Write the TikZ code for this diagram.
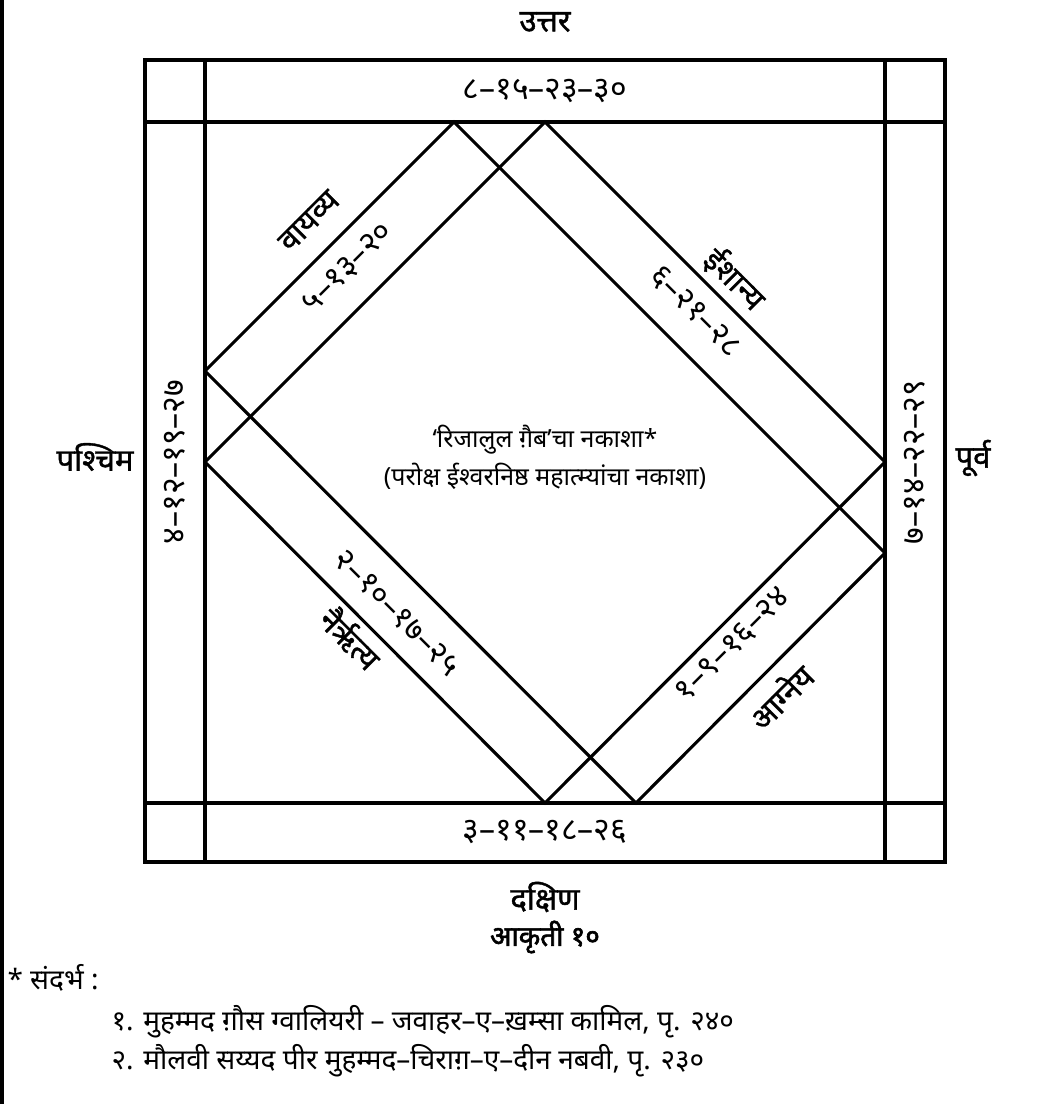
\documentclass[tikz,border=0pt]{standalone}
\usepackage{fontspec}
\setmainfont[Script=Devanagari]{Noto Sans}
\newfontfamily\devbold[Script=Devanagari,FakeBold=2.2]{Noto Sans}
\newfontfamily\devsemi[Script=Devanagari,FakeBold=1.2]{Noto Sans}
\begin{document}
\begin{tikzpicture}[x=1pt,y=1pt,line width=3.1pt,
  txt/.style={font=\fontsize{25}{30}\selectfont, inner sep=0pt},
  reftxt/.style={font=\fontsize{28}{32}\selectfont, inner sep=0pt},
  numtxt/.style={font=\fontsize{32}{36}\selectfont, inner sep=0pt},
  dirtxt/.style={font=\devsemi\fontsize{31}{36}\selectfont, inner sep=0pt}]
\useasboundingbox (0,0) rectangle (1057,1104);
% left border
\draw (2,-2) -- (2,1106);
% outer frame and bands
\coordinate (OL) at (145,242); \coordinate (OU) at (945,1044);
\draw (OL) rectangle (OU);
\draw (205,242) -- (205,1044);
\draw (885,242) -- (885,1044);
\draw (145,982) -- (945,982);
\draw (145,301) -- (945,301);
% diamond B
\coordinate (Bt) at (545,982); \coordinate (Br) at (885,642);
\coordinate (Bb) at (545,301); \coordinate (Bl) at (205,642);
\draw (Bt) -- (Br) -- (Bb) -- (Bl) -- cycle;
% rectangle A
\coordinate (At) at (454,982); \coordinate (Ar) at (885,551);
\coordinate (Ab) at (636,301); \coordinate (Al) at (205,733);
\draw (At) -- (Ar) -- (Ab) -- (Al) -- cycle;
% direction labels
\node[dirtxt] (n) at (545,1082) {उत्तर};
\node[dirtxt] (s) at (545,207) {दक्षिण};
\node[dirtxt] (w) at (95,647) {पश्चिम};
\node[dirtxt] (e) at (973,646) {पूर्व};
% band numbers
\node[numtxt] (top) at (545,1013) {८–१५–२३–३०};
\node[numtxt] (bot) at (545,272) {३–११–१८–२६};
\node[numtxt,rotate=90] (lft) at (175,642) {४–१२–१९–२७};
\node[numtxt,rotate=90] (rgt) at (915,642) {७–१४–२२–२९};
% diagonal labels
\node[dirtxt,rotate=45] (vay) at (309,883) {वायव्य};
\node[numtxt,rotate=45] (ul) at (348,836) {५–१३–२०};
\node[dirtxt,rotate=-45] (ish) at (735,825) {ईशान्य};
\node[numtxt,rotate=-45] (ur) at (695,792) {६–२१–२८};
\node[dirtxt,rotate=-45] (nai) at (351,466) {नैर्ऋत्य};
\node[numtxt,rotate=-45] (ll) at (397,491) {२–१०–१७–२५};
\node[dirtxt,rotate=45] (agn) at (780,408) {आग्नेय};
\node[numtxt,rotate=45] (lr) at (733,459) {१–९–१६–२४};
% centre title
\node[txt] (t1) at (545,664) {‘रिजालुल ग़ैब’चा नकाशा*};
\node[txt] (t2) at (545,628) {(परोक्ष ईश्वरनिष्ठ महात्म्यांचा नकाशा)};
% caption and references
\node[font=\devbold\fontsize{28}{32}\selectfont, inner sep=0pt] (cap) at (545,167) {आकृती १०};
\node[reftxt,anchor=west] (ref) at (6,126) {* संदर्भ :};
\node[reftxt,anchor=west] (r1) at (110,82) {१. मुहम्मद ग़ौस ग्वालियरी – जवाहर–ए–ख़म्सा कामिल, पृ. २४०};
\node[reftxt,anchor=west] (r2) at (110,43) {२. मौलवी सय्यद पीर मुहम्मद–चिराग़–ए–दीन नबवी, पृ. २३०};
\end{tikzpicture}
\end{document}
